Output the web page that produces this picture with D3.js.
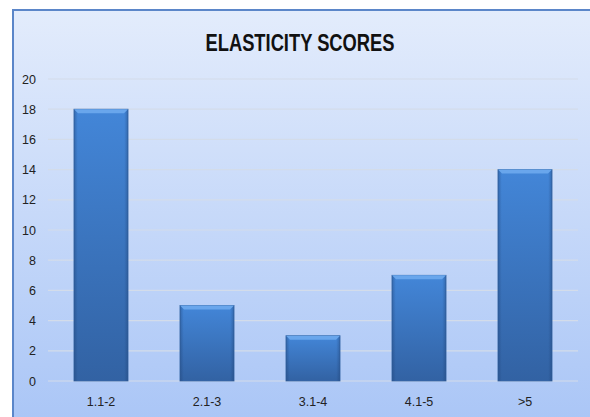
<!DOCTYPE html>
<html>
<head>
<meta charset="utf-8">
<script src="https://cdn.jsdelivr.net/npm/d3@7"></script>
<style>
  body { margin: 0; background: #fff; }
  text { font-family: "Liberation Sans Narrow", "Arial Narrow", "Liberation Sans", sans-serif; }
</style>
</head>
<body>
<svg id="chart" width="590" height="417"></svg>
<script>
// values
const categories = ['1.1-2', '2.1-3', '3.1-4', '4.1-5', '>5']
const scores = [18, 5, 3, 7, 14]
const yTicks = [0, 2, 4, 6, 8, 10, 12, 14, 16, 18, 20]
const title = 'ELASTICITY SCORES'

const svg = d3.select('#chart')
const defs = svg.append('defs')

// chart area background
const bg = defs.append('linearGradient').attr('id', 'bg')
    .attr('x1', 0).attr('y1', 0).attr('x2', 0).attr('y2', 1)
bg.append('stop').attr('offset', '0%').attr('stop-color', '#e3ecfc')
bg.append('stop').attr('offset', '100%').attr('stop-color', '#a9c5f6')

// bar body, vertical shading
const barGrad = defs.append('linearGradient').attr('id', 'bar')
    .attr('x1', 0).attr('y1', 0).attr('x2', 0).attr('y2', 1)
barGrad.append('stop').attr('offset', '0%').attr('stop-color', '#4386d8')
barGrad.append('stop').attr('offset', '100%').attr('stop-color', '#3262a3')

// darker sides
const side = defs.append('linearGradient').attr('id', 'side')
    .attr('x1', 0).attr('y1', 0).attr('x2', 1).attr('y2', 0)
side.append('stop').attr('offset', '0%').attr('stop-color', '#1d3f72').attr('stop-opacity', 0.4)
side.append('stop').attr('offset', '7%').attr('stop-color', '#1d3f72').attr('stop-opacity', 0)
side.append('stop').attr('offset', '93%').attr('stop-color', '#1d3f72').attr('stop-opacity', 0)
side.append('stop').attr('offset', '100%').attr('stop-color', '#1d3f72').attr('stop-opacity', 0.4)

svg.append('rect')
    .attr('x', 13).attr('y', 10)
    .attr('width', 600).attr('height', 420)
    .attr('fill', 'url(#bg)')
    .attr('stroke', '#5b86c9')
    .attr('stroke-width', 2)

const margin = {left: 48, right: 12, top: 79, bottom: 36}
const width = 590 - margin.left - margin.right
const height = 417 - margin.top - margin.bottom

const g = svg.append('g').attr('transform', `translate(${margin.left},${margin.top})`)

const x = d3.scaleBand().domain(categories).range([0, width]).paddingInner(0.49).paddingOuter(0.245)
const y = d3.scaleLinear().domain([0, 20]).range([height, 0])

// gridlines
g.selectAll('.grid')
    .data(yTicks)
    .enter()
    .append('line')
    .attr('class', 'grid')
    .attr('x1', 0).attr('x2', width)
    .attr('y1', d => y(d)).attr('y2', d => y(d))
    .attr('stroke', '#d3dcea')
    .attr('stroke-width', 1.2)

const tickFont = '"Liberation Sans", Arial, sans-serif'

// y axis labels
const yAxis = g.append('g')
    .call(d3.axisLeft(y).tickValues(yTicks).tickSize(0).tickPadding(12))
yAxis.select('.domain').remove()
yAxis.selectAll('text').attr('font-size', 12.5).attr('fill', '#222')
    .style('font-family', tickFont)

// x axis labels
const xAxis = g.append('g').attr('transform', `translate(0,${height})`)
    .call(d3.axisBottom(x).tickSize(0).tickPadding(16))
xAxis.select('.domain').remove()
xAxis.selectAll('text').attr('font-size', 12.5).attr('fill', '#222')
    .style('font-family', tickFont)

// bars
const bars = g.selectAll('.bar')
    .data(scores)
    .enter()
    .append('g')
    .attr('class', 'bar')

bars.append('rect')
    .attr('x', (d, i) => x(categories[i]))
    .attr('y', d => y(d))
    .attr('width', x.bandwidth())
    .attr('height', d => y(0) - y(d))
    .attr('fill', 'url(#bar)')
    .attr('stroke', '#3a6aa8')
    .attr('stroke-width', 0.8)

bars.append('rect')
    .attr('x', (d, i) => x(categories[i]))
    .attr('y', d => y(d))
    .attr('width', x.bandwidth())
    .attr('height', d => y(0) - y(d))
    .attr('fill', 'url(#side)')

// bevel on top
bars.append('path')
    .attr('d', (d, i) => {
        const x0 = x(categories[i]), x1 = x0 + x.bandwidth(), t = y(d)
        return `M${x0},${t} L${x1},${t} L${x1 - 4},${t + 4} L${x0 + 4},${t + 4} Z`
    })
    .attr('fill', '#69a6ec')

svg.append('text')
    .attr('x', 300).attr('y', 51)
    .attr('text-anchor', 'middle')
    .attr('font-size', 23)
    .attr('font-weight', 'bold')
    .attr('fill', '#111')
    .attr('textLength', 189)
    .attr('lengthAdjust', 'spacingAndGlyphs')
    .text(title)
</script>
</body>
</html>
